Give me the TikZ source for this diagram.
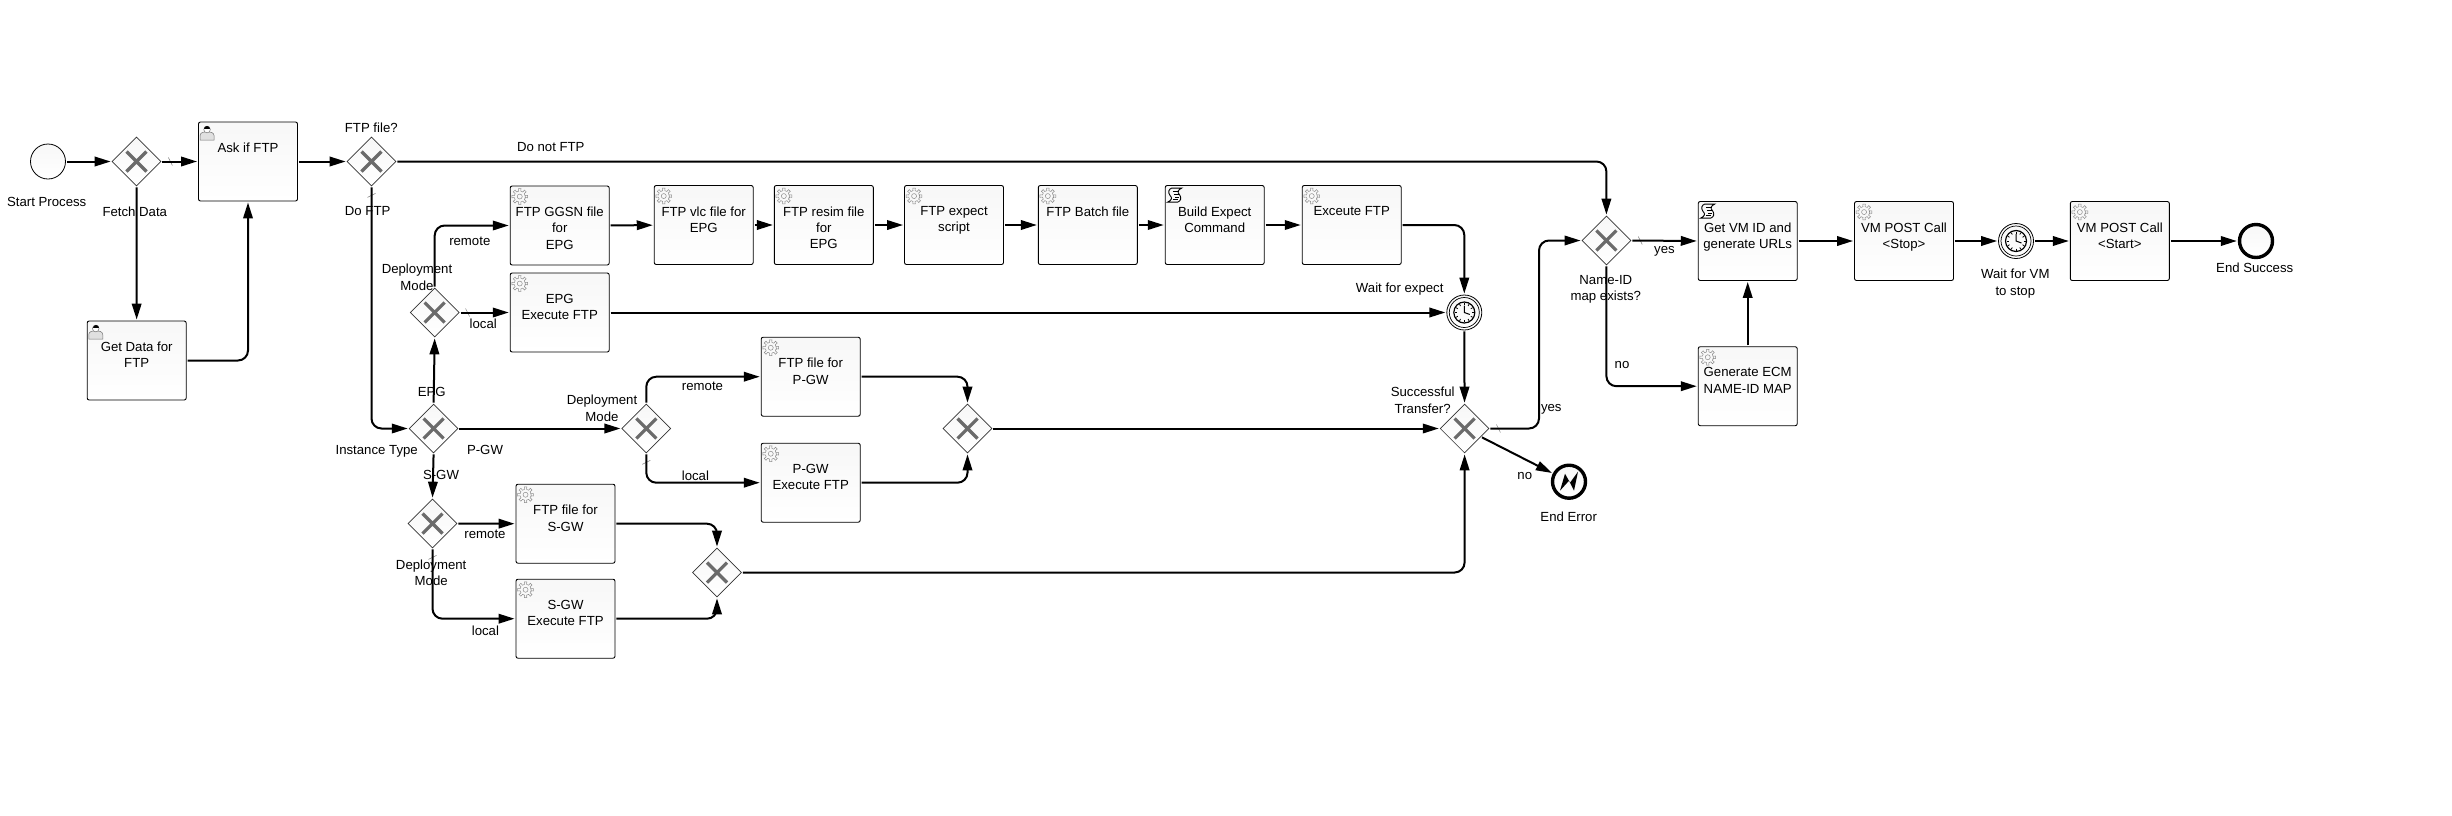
\documentclass[tikz,border=0pt]{standalone}
\usepackage{fontspec}
\setmainfont{Liberation Sans}
\usetikzlibrary{arrows.meta,shapes.geometric}

\newcommand{\tasktop}[1]{\parbox[c][79pt][t]{97pt}{\centering\vspace{21pt}#1\par}}

\begin{document}
\begin{tikzpicture}
  [x=1pt,y=-1pt,
   font=\fontsize{13.2}{16.3}\selectfont,
   shade box/.style={top color=black!3,bottom color=white},
   task/.style={draw,shade box,rounded corners=2pt,line width=.9pt,inner sep=0pt,
     minimum width=99pt,minimum height=79pt},
   gate/.style={diamond,aspect=1,draw=black!80,shade box,line width=.7pt,inner sep=0pt,
     minimum width=49pt,minimum height=49pt},
   event/.style={circle,draw,shade box,line width=.8pt,inner sep=0pt,minimum size=35pt},
   endevent/.style={event,line width=3.4pt,minimum size=33pt},
   txt/.style={align=center,inner sep=0pt,yshift=-1pt},
   flow/.style={-{Triangle[length=16pt,width=9.5pt]},line width=2pt,rounded corners=10pt,
     shorten >=1pt,shorten <=1pt},
   xmark/.pic={\draw [black!58,line width=3.2pt] (-10,-10) -- (10,10) (-10,10) -- (10,-10);},
   hslash/.pic={\draw [black!50,line width=.5pt] (-2,-4) -- (2,4);},
   vslash/.pic={\draw [black!50,line width=.5pt] (-4,2) -- (4,-2);},
   gearicon/.pic={
     \draw [black!45,line width=.5pt] (0:5.5)
       \foreach \a in {0,45,...,315} {-- (\a-11:5.5) -- (\a-9:8) -- (\a+9:8) -- (\a+11:5.5)} -- cycle;
     \draw [black!45,line width=.5pt] (0,0) circle (2.5);},
   usericon/.pic={
     \draw [black!55,line width=.5pt,fill=black!12] (-7,7.5) -- (-7,3) .. controls (-7,0) and (-3,-1) .. (0,-1)
       .. controls (3,-1) and (7,0) .. (7,3) -- (7,7.5) -- cycle;
     \draw [black!55,line width=.5pt,fill=white] (0,-3) circle (3.3);
     \fill (-3,-4) .. controls (-3,-8) and (3,-8) .. (3,-4) -- cycle;},
   scripticon/.pic={
     \draw [line width=.9pt] (-3,-7) -- (7,-7) .. controls (3,-5) and (2,-3) .. (5,0)
       .. controls (7,3) and (6,6) .. (3,7) -- (-7,7) .. controls (-3,5) and (-2,3) .. (-5,0)
       .. controls (-7,-3) and (-6,-6) .. (-3,-7) -- cycle;
     \draw [line width=.8pt] (-2,-4) -- (4,-4) (-1,-1) -- (4,-1) (0,2) -- (4,2) (-2,4.5) -- (3,4.5);},
   clockicon/.pic={
     \draw [line width=.7pt] (0,0) circle (15);
     \draw [line width=1.2pt] (0,0) circle (10.5);
     \foreach \a in {0,30,...,330} \draw [line width=.8pt] (\a:7.5) -- (\a:9.5);
     \draw [line width=1pt] (0,-7) -- (0,0) -- (5.5,2);},
   bolticon/.pic={\fill (-9,9) -- (-4,-8) -- (1,1) -- (9,-10) -- (5,9) -- (0,-1) -- cycle;}]

  \useasboundingbox (0,0) rectangle (2452,815);

  \node (start) at (48,161.5) [event] {};
  \node (fetch) at (136.5,161.5) [gate] {};
  \node (ask) at (248,161.5) [task] {\tasktop{Ask if FTP}};
  \node (getdata) at (136.7,360.5) [task] {\tasktop{Get Data for\\FTP}};
  \node (ftpq) at (371.5,161.5) [gate] {};

  \node (ggsn) at (559.7,225.5) [task] {\tasktop{FTP GGSN file\\for\\EPG}};
  \node (vlc) at (703.7,225) [task] {\tasktop{FTP vlc file for\\EPG}};
  \node (resim) at (823.8,225) [task] {\tasktop{FTP resim file\\for\\EPG}};
  \node (expect) at (954,225) [task] {\tasktop{FTP expect\\script}};
  \node (batch) at (1087.8,225) [task] {\tasktop{FTP Batch file}};
  \node (build) at (1214.7,225) [task] {\tasktop{Build Expect\\Command}};
  \node (exceute) at (1351.7,225) [task] {\tasktop{Exceute FTP}};
  \node (epgexec) at (559.7,312.5) [task] {\tasktop{EPG\\Execute FTP}};

  \node (epgmode) at (434.7,312.5) [gate] {};
  \node (inst) at (433.6,428.5) [gate] {};
  \node (pmode) at (646.3,428.5) [gate] {};
  \node (smode) at (432.5,523.5) [gate] {};
  \node (ftpp) at (810.7,376.7) [task] {\tasktop{FTP file for\\P-GW}};
  \node (pexec) at (810.7,482.7) [task] {\tasktop{P-GW\\Execute FTP}};
  \node (ftps) at (565.5,523.7) [task] {\tasktop{FTP file for\\S-GW}};
  \node (sexec) at (565.5,618.7) [task] {\tasktop{S-GW\\Execute FTP}};
  \node (pmerge) at (967.5,428.5) [gate] {};
  \node (smerge) at (717,572.5) [gate] {};

  \node (timer) at (1464.3,312.5) [event] {};
  \node (succ) at (1464.6,428.5) [gate] {};
  \node (enderr) at (1569,481.7) [endevent] {};
  \node (nameid) at (1606.4,240.5) [gate] {};
  \node (vmid) at (1747.7,241) [task] {\tasktop{Get VM ID and\\generate URLs}};
  \node (ecm) at (1747.7,386.2) [task] {\tasktop{Generate ECM\\NAME-ID MAP}};
  \node (vmstop) at (1904,241) [task] {\tasktop{VM POST Call\\<Stop>}};
  \node (vmwait) at (2016,241) [event] {};
  \node (vmstart) at (2119.8,241) [task] {\tasktop{VM POST Call\\<Start>}};
  \node (endok) at (2256,241) [endevent] {};

  \coordinate (yesmid) at (1539,334);

  \foreach \n in {fetch,ftpq,epgmode,inst,pmode,smode,pmerge,smerge,succ,nameid}
    \pic at (\n) {xmark};
  \foreach \n in {ggsn,vlc,resim,expect,batch,exceute,epgexec,ftpp,pexec,ftps,sexec,ecm,vmstop,vmstart}
    \pic at ([shift={(10,11)}]\n.north west) {gearicon};
  \foreach \n in {ask,getdata}
    \pic at ([shift={(9,11)}]\n.north west) {usericon};
  \foreach \n in {build,vmid}
    \pic at ([shift={(10,10)}]\n.north west) {scripticon};
  \foreach \n in {timer,vmwait}
    \pic at (\n) {clockicon};
  \pic at (enderr) {bolticon};

  \pic at ([shift={(9,0)}]fetch.east) {hslash};
  \pic at ([shift={(8,0)}]epgmode.east) {hslash};
  \pic at ([shift={(9,0)}]succ.east) {hslash};
  \pic at ([shift={(9,0)}]nameid.east) {hslash};
  \pic at ([shift={(0,9)}]ftpq.south) {vslash};
  \pic at ([shift={(0,9)}]pmode.south) {vslash};
  \pic at ([shift={(0,9)}]smode.south) {vslash};

  \draw [flow] (start) to (fetch);
  \draw [flow] (fetch) to (ask);
  \draw [flow] (fetch) to (getdata);
  \draw [flow] (getdata.east) -| (ask.south);
  \draw [flow] (ask) to (ftpq);
  \draw [flow] (ftpq.east) -| (nameid.north);
  \draw [flow] (ftpq.south) |- (inst.west);

  \draw [flow] (inst.north) -- (epgmode.south);
  \draw [flow] (inst.east) -- (pmode.west);
  \draw [flow] (inst.south) -- (smode.north);

  \draw [flow] (epgmode.north) |- (ggsn.west);
  \draw [flow] (epgmode.east) -- (epgexec.west);
  \draw [flow] (ggsn) to (vlc);
  \draw [flow] (vlc) to (resim);
  \draw [flow] (resim) to (expect);
  \draw [flow] (expect) to (batch);
  \draw [flow] (batch) to (build);
  \draw [flow] (build) to (exceute);
  \draw [flow] (exceute.east) -| (timer.north);
  \draw [flow] (epgexec.east) -- (timer.west);
  \draw [flow] (timer) to (succ);

  \draw [flow] (pmode.north) |- (ftpp.west);
  \draw [flow] (pmode.south) |- (pexec.west);
  \draw [flow] (ftpp.east) -| (pmerge.north);
  \draw [flow] (pexec.east) -| (pmerge.south);
  \draw [flow] (pmerge.east) -- (succ.west);

  \draw [flow] (smode.east) -- (ftps.west);
  \draw [flow] (smode.south) |- (sexec.west);
  \draw [flow] (ftps.east) -| (smerge.north);
  \draw [flow] (sexec.east) -| (smerge.south);
  \draw [flow] (smerge.east) -| (succ.south);

  \draw [flow] (succ.east) -| (yesmid) |- (nameid.west);
  \draw [flow] (succ) to (enderr);
  \draw [flow] (nameid.east) -- (vmid.west);
  \draw [flow] (nameid.south) |- (ecm.west);
  \draw [flow] (ecm) to (vmid);
  \draw [flow] (vmid) to (vmstop);
  \draw [flow] (vmstop) to (vmwait);
  \draw [flow] (vmwait) to (vmstart);
  \draw [flow] (vmstart) to (endok);

  \node (lstart) at (46.7,201) [txt] {Start Process};
  \node (lfetch) at (134.8,210.3) [txt] {Fetch Data};
  \node (lftpq) at (371.3,126.3) [txt] {FTP file?};
  \node (lnoftp) at (550.8,146) [txt] {Do not FTP};
  \node (ldoftp) at (367.7,210) [txt] {Do FTP};
  \node (lremote) at (469.8,240.7) [txt] {remote};
  \node (lmodee) at (417,276.3) [txt] {Deployment\\Mode};
  \node (llocal) at (483.2,322.3) [txt] {local};
  \node (lepg) at (431.8,391) [txt] {EPG};
  \node (linst) at (376.7,450.3) [txt] {Instance Type};
  \node (lpgw) at (485,449) [txt] {P-GW};
  \node (lsgw) at (441,474.3) [txt] {S-GW};
  \node (lmodep) at (602,407.3) [txt] {Deployment\\Mode};
  \node (lremotep) at (702.5,385.7) [txt] {remote};
  \node (llocalp) at (695.4,474.3) [txt] {local};
  \node (lremotes) at (485,533.7) [txt] {remote};
  \node (llocals) at (485.4,629.3) [txt] {local};
  \node (lmodes) at (431.2,571.5) [txt] {Deployment\\Mode};
  \node (lwait) at (1399.7,288.3) [txt] {Wait for expect};
  \node (lsucc) at (1422.7,399.3) [txt] {Successful\\Transfer?};
  \node (lyes) at (1551.3,408) [txt] {yes};
  \node (lno) at (1524.8,474.7) [txt] {no};
  \node (lerr) at (1568.7,515.3) [txt] {End Error};
  \node (lname) at (1605.8,288.3) [txt] {Name-ID\\map exists?};
  \node (lyesid) at (1664.4,250.7) [txt] {yes};
  \node (lnoid) at (1622,364) [txt] {no};
  \node (lvmwait) at (2015.3,282.5) [txt] {Wait for VM\\to stop};
  \node (lok) at (2254.7,266.7) [txt] {End Success};
\end{tikzpicture}
\end{document}
